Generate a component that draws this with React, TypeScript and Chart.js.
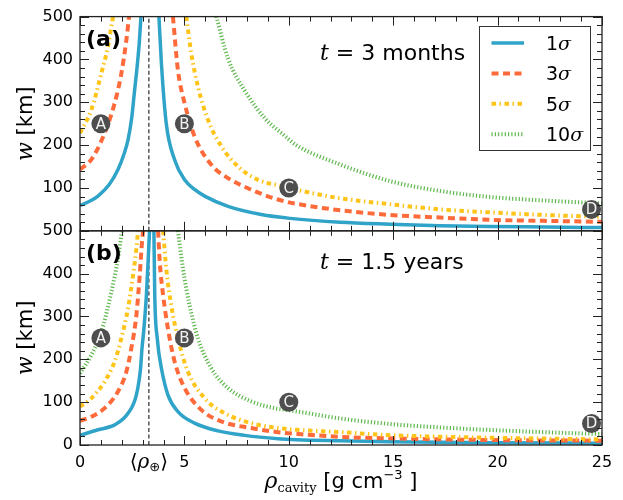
import React, { useEffect, useRef } from 'react';
import { Chart, registerables } from 'chart.js';

Chart.register(...registerables);

type P = [number, number];

// ---------- axis / label data ----------
const X_TICKS = [0, 5, 10, 15, 20, 25];
const Y_TICKS = [0, 100, 200, 300, 400, 500];
const X_MINOR_STEP = 1;
const Y_MINOR_STEP = 20;
const RHO_EARTH = 3.3;
const SIGMA_NUM = ['1', '3', '5', '10'];
const PANEL_TAGS = ['(a)', '(b)'];
const PANEL_TIMES = ['3 months', '1.5 years'];
const MARK_LETTERS = ['A', 'B', 'C', 'D'];
const MARK_RHO = [1, 5, 10, 24.5];
const MARK_W = [250, 250, 100, 50];

// ---------- panel (a): t = 3 months ----------
const a1Left: P[] = [[0, 59], [0.5, 70], [0.86, 81], [1.4, 108], [1.82, 143], [2.1, 178], [2.3, 212], [2.48, 265], [2.6, 321], [2.75, 390], [2.84, 440], [2.92, 500]];
const a1Right: P[] = [[3.78, 500], [3.9, 390], [4.13, 251], [4.53, 166], [5.01, 119], [5.5, 96], [5.97, 81], [7.09, 57], [8.68, 38], [10.06, 29], [12.45, 20], [14.85, 15.5], [17.24, 12], [19.64, 10], [22.3, 8.8], [25, 7.5]];
const a3Left: P[] = [[0, 143], [0.54, 166], [1.18, 228], [1.66, 298], [1.98, 367], [2.22, 445], [2.35, 500]];
const a3Right: P[] = [[4.45, 500], [4.69, 375], [5.01, 298], [5.49, 220], [6.29, 154], [7.09, 123], [8.2, 96], [9.48, 73], [10.36, 63], [12.45, 48], [14.85, 37], [17.24, 31], [19.64, 25.6], [22.5, 23], [25, 21]];
const a5Left: P[] = [[0, 228], [0.54, 282], [1.02, 367], [1.34, 430], [1.58, 500]];
const a5Right: P[] = [[5.09, 500], [5.33, 414], [5.65, 336], [6.13, 259], [6.77, 197], [7.57, 150], [8.52, 119], [9.5, 106], [10.54, 94], [12.45, 76], [14.85, 62], [17.24, 50], [19.64, 43], [22.5, 36.5], [25, 32.5]];
const a10Left: P[] = [];
const a10Right: P[] = [[6.53, 500], [7.09, 402], [7.89, 327], [8.85, 263], [9.8, 222], [10.36, 200], [12.45, 155], [14.85, 116], [17.24, 93], [19.64, 79], [22.5, 70], [25, 64]];

// ---------- panel (b): t = 1.5 years ----------
const b1Left: P[] = [[0, 22.5], [0.86, 35.6], [1.66, 47], [2.3, 74], [2.7, 117], [2.9, 179], [2.97, 226], [3.05, 265], [3.18, 350], [3.29, 458], [3.33, 500]];
const b1Right: P[] = [[3.54, 500], [3.58, 350], [3.7, 249], [3.9, 179], [4.21, 117], [4.69, 78], [5.49, 51], [6.61, 33], [7.89, 22.5], [9.48, 14.7], [10.36, 12.4], [12.45, 10], [14.85, 7.8], [19.64, 5.4], [25, 4]];
const b3Left: P[] = [[0, 56.6], [0.54, 66], [1.18, 86], [1.82, 125], [2.22, 171], [2.46, 226], [2.7, 303], [2.86, 396], [2.97, 474], [3.02, 500]];
const b3Right: P[] = [[3.74, 500], [3.82, 427], [3.98, 350], [4.21, 272], [4.53, 195], [5.01, 133], [5.81, 82], [6.77, 55], [8.2, 39.5], [9.48, 30], [10.36, 26], [12.45, 19], [14.85, 15.5], [19.64, 11.6], [25, 10]];
const b5Left: P[] = [[0, 90], [0.54, 109], [1.18, 148], [1.66, 195], [1.98, 249], [2.3, 319], [2.54, 396], [2.7, 458], [2.78, 500]];
const b5Right: P[] = [[3.98, 500], [4.13, 412], [4.37, 326], [4.69, 249], [5.17, 171], [5.97, 109], [6.93, 74], [8.2, 51], [9.48, 39.5], [10.5, 35], [12.45, 30], [14.85, 23], [17.24, 19.4], [19.64, 17], [25, 13]];
const b10Left: P[] = [[0, 167], [0.54, 210], [1.02, 264], [1.5, 357], [1.82, 435], [2.01, 500]];
const b10Right: P[] = [[4.69, 500], [4.93, 412], [5.25, 326], [5.65, 249], [6.29, 179], [7.09, 133], [8.2, 102], [9.32, 86], [10.06, 81], [12.45, 62], [14.85, 49], [17.24, 41], [19.64, 35], [22.5, 29.5], [25, 25.6]];

const PANEL_A: P[][][] = [[a1Left, a1Right], [a3Left, a3Right], [a5Left, a5Right], [a10Left, a10Right]];
const PANEL_B: P[][][] = [[b1Left, b1Right], [b3Left, b3Right], [b5Left, b5Right], [b10Left, b10Right]];

// ---------- styles ----------
const STYLES = [
  { color: '#2fa3c8', width: 3.5, dash: [] as number[] },
  { color: '#ff6a3a', width: 4, dash: [7, 4.5] },
  { color: '#ffc41a', width: 4, dash: [4.5, 3.5, 1.5, 3.5] },
  { color: '#5fb84e', width: 4, dash: [1.2, 2.1] },
];
const FRAME = '#222';
const SANS = '"DejaVu Sans"';
const SERIF = '"DejaVu Serif"';

type Run = { t: string; f: string; dy?: number };
function drawRuns(ctx: CanvasRenderingContext2D, runs: Run[], x: number, y: number, align: 'left' | 'center') {
  let total = 0;
  for (const r of runs) { ctx.font = r.f; total += ctx.measureText(r.t).width; }
  let cx = align === 'center' ? x - total / 2 : x;
  ctx.textAlign = 'left';
  ctx.textBaseline = 'alphabetic';
  for (const r of runs) {
    ctx.font = r.f;
    ctx.fillText(r.t, cx, y + (r.dy || 0));
    cx += ctx.measureText(r.t).width;
  }
}

function lineDs(points: P[], axis: string, s: { color: string; width: number; dash: number[] }) {
  return {
    type: 'line',
    data: points.map(([x, y]) => ({ x, y })),
    xAxisID: 'x',
    yAxisID: axis,
    borderColor: s.color,
    borderWidth: s.width,
    borderDash: s.dash,
    borderCapStyle: 'butt',
    borderJoinStyle: 'round',
    pointRadius: 0,
    fill: false,
    cubicInterpolationMode: 'monotone',
  };
}

const decorPlugin = {
  id: 'decor',
  afterDatasetsDraw(chart: any) {
    const ctx: CanvasRenderingContext2D = chart.ctx;
    const xs = chart.scales.x;
    const panels = [chart.scales.ya, chart.scales.yb];
    ctx.save();

    // marker letters
    chart.data.datasets.forEach((ds: any, i: number) => {
      if (!ds._letters) return;
      const meta = chart.getDatasetMeta(i);
      meta.data.forEach((el: any, j: number) => {
        ctx.fillStyle = '#f2f2f2';
        ctx.font = `15px ${SANS}`;
        ctx.textAlign = 'center';
        ctx.textBaseline = 'middle';
        ctx.fillText(ds._letters[j], el.x, el.y + 1);
      });
    });

    // frames and inward ticks
    const xMin = X_TICKS[0], xMax = X_TICKS[X_TICKS.length - 1];
    const yMin = Y_TICKS[0], yMax = Y_TICKS[Y_TICKS.length - 1];
    ctx.strokeStyle = FRAME;
    for (const ys of panels) {
      const L = xs.left, R = xs.right, T = ys.top, B = ys.bottom;
      ctx.lineWidth = 1;
      ctx.beginPath();
      for (let v = yMin; v <= yMax + 1e-9; v += Y_MINOR_STEP) {
        const major = Y_TICKS.includes(v);
        const len = major ? 9 : 5;
        const py = Math.round(ys.getPixelForValue(v)) + 0.5;
        ctx.moveTo(L, py); ctx.lineTo(L + len, py);
        ctx.moveTo(R, py); ctx.lineTo(R - len, py);
      }
      for (let v = xMin; v <= xMax + 1e-9; v += X_MINOR_STEP) {
        const major = X_TICKS.includes(v);
        const len = major ? 9 : 5;
        const px = Math.round(xs.getPixelForValue(v)) + 0.5;
        ctx.moveTo(px, T); ctx.lineTo(px, T + len);
        ctx.moveTo(px, B); ctx.lineTo(px, B - len);
      }
      ctx.stroke();
      ctx.lineWidth = 1.3;
      ctx.strokeRect(L, T, R - L, B - T);
    }

    // panel tags and time annotations
    ctx.fillStyle = '#000';
    panels.forEach((ys: any, i: number) => {
      ctx.font = `bold 22px ${SANS}`;
      ctx.textAlign = 'left';
      ctx.textBaseline = 'alphabetic';
      ctx.fillText(PANEL_TAGS[i], xs.left + 6, ys.top + 29);
      drawRuns(ctx, [
        { t: 't', f: `italic 22px ${SERIF}` },
        { t: ' = ' + PANEL_TIMES[i], f: `22px ${SANS}` },
      ], 320, ys.top + (i === 0 ? 43 : 38), 'left');

      // y axis label
      ctx.save();
      ctx.translate(32, (ys.top + ys.bottom) / 2);
      ctx.rotate(-Math.PI / 2);
      drawRuns(ctx, [
        { t: 'w', f: `italic 22px ${SERIF}` },
        { t: ' [km]', f: `21px ${SANS}` },
      ], 0, 0, 'center');
      ctx.restore();
    });

    // <rho_earth> tick label
    const pe = xs.getPixelForValue(RHO_EARTH);
    drawRuns(ctx, [
      { t: '⟨', f: `20px ${SANS}` },
      { t: 'ρ', f: `italic 20px ${SERIF}` },
      { t: '⊕', f: `13px ${SANS}`, dy: 3 },
      { t: '⟩', f: `20px ${SANS}` },
    ], pe, 468, 'center');

    // x axis label
    drawRuns(ctx, [
      { t: 'ρ', f: `italic 22px ${SERIF}` },
      { t: 'cavity', f: `13px ${SERIF}`, dy: 4 },
      { t: ' [g cm', f: `21px ${SANS}` },
      { t: '−3', f: `13px ${SANS}`, dy: -9 },
      { t: ' ]', f: `21px ${SANS}` },
    ], (xs.left + xs.right) / 2, 488, 'center');

    // legend
    const lx = 479, ly = 26, lw = 111, lh = 124;
    ctx.fillStyle = '#fff';
    ctx.fillRect(lx, ly, lw, lh);
    ctx.strokeStyle = '#333';
    ctx.lineWidth = 1;
    ctx.strokeRect(lx + 0.5, ly + 0.5, lw, lh);
    SIGMA_NUM.forEach((n, i) => {
      const base = 50 + i * 30.4;
      const s = STYLES[i];
      ctx.save();
      ctx.strokeStyle = s.color;
      ctx.lineWidth = s.width;
      ctx.setLineDash(s.dash);
      ctx.lineCap = 'butt';
      ctx.beginPath();
      ctx.moveTo(491.5, base - 7);
      ctx.lineTo(524, base - 7);
      ctx.stroke();
      ctx.restore();
      ctx.fillStyle = '#000';
      drawRuns(ctx, [
        { t: n, f: `19px ${SANS}` },
        { t: 'σ', f: `italic 19px ${SERIF}` },
      ], 546, base, 'left');
    });

    ctx.restore();
  },
};

function yScale(weight: number, hideZero: boolean) {
  return {
    type: 'linear',
    position: 'left',
    stack: 'panels',
    stackWeight: 1,
    weight,
    min: Y_TICKS[0],
    max: Y_TICKS[Y_TICKS.length - 1],
    grid: { display: false, drawTicks: false },
    border: { display: false },
    ticks: {
      stepSize: Y_TICKS[1] - Y_TICKS[0],
      padding: 7,
      color: '#000',
      font: { family: 'DejaVu Sans', size: 16 },
      callback: (v: number) => (hideZero && v === 0 ? '' : String(v)),
    },
    afterFit: (s: any) => { s.width = 80; },
  };
}

export default function App() {
  const ref = useRef<HTMLCanvasElement>(null);
  useEffect(() => {
    document.body.style.margin = '0';
    const datasets: any[] = [];
    // markers (top-most)
    ['ya', 'yb'].forEach((axis) => {
      datasets.push({
        type: 'line',
        data: MARK_RHO.map((x, j) => ({ x, y: MARK_W[j] })),
        xAxisID: 'x',
        yAxisID: axis,
        showLine: false,
        pointRadius: 9.5,
        pointBackgroundColor: '#4e4e4e',
        pointBorderWidth: 0,
        _letters: MARK_LETTERS,
      });
    });
    // curves: 10σ on top down to 1σ
    for (let s = 3; s >= 0; s--) {
      [['ya', PANEL_A], ['yb', PANEL_B]].forEach(([axis, panel]: any) => {
        for (const branch of panel[s]) {
          if (branch.length) datasets.push(lineDs(branch, axis, STYLES[s]));
        }
      });
    }
    // vertical mean-density line
    ['ya', 'yb'].forEach((axis) => {
      datasets.push({
        type: 'line',
        data: [{ x: RHO_EARTH, y: Y_TICKS[0] }, { x: RHO_EARTH, y: Y_TICKS[Y_TICKS.length - 1] }],
        xAxisID: 'x',
        yAxisID: axis,
        borderColor: '#000',
        borderWidth: 1,
        borderDash: [4, 2.5],
        pointRadius: 0,
        tension: 0,
      });
    });

    const chart = new Chart(ref.current as HTMLCanvasElement, {
      type: 'line',
      data: { datasets },
      options: {
        animation: false,
        responsive: false,
        devicePixelRatio: 1,
        layout: { padding: { top: 15, right: 21, left: 0, bottom: 0 } },
        plugins: { legend: { display: false }, tooltip: { enabled: false } },
        events: [],
        scales: {
          x: {
            type: 'linear',
            position: 'bottom',
            min: X_TICKS[0],
            max: X_TICKS[X_TICKS.length - 1],
            grid: { display: false, drawTicks: false },
            border: { display: false },
            ticks: {
              stepSize: X_TICKS[1] - X_TICKS[0],
              padding: 8,
              color: '#000',
              autoSkip: false,
              maxRotation: 0,
              font: { family: 'DejaVu Sans', size: 16 },
            },
            afterFit: (s: any) => { s.height = 55; },
          },
          ya: yScale(2, true),
          yb: yScale(1, false),
        },
      } as any,
      plugins: [decorPlugin],
    } as any);
    return () => chart.destroy();
  }, []);
  return (
    <div style={{ position: 'fixed', left: 0, top: 0, width: 623, height: 500, background: '#fff' }}>
      <canvas ref={ref} width={623} height={500} style={{ display: 'block', width: 623, height: 500 }} />
    </div>
  );
}
